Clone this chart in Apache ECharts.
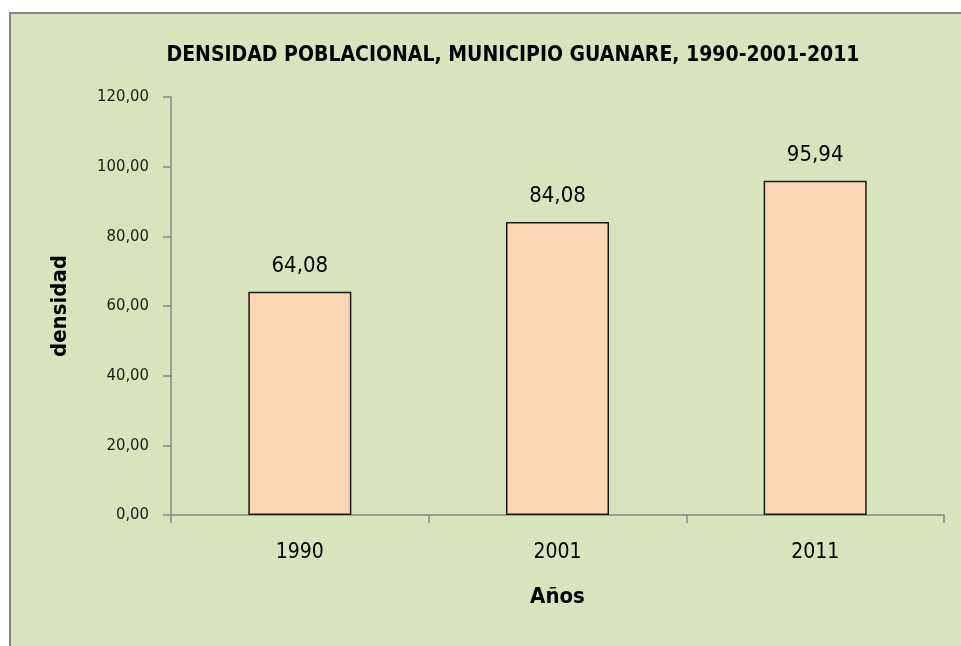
<!DOCTYPE html>
<html>
<head>
<meta charset="utf-8">
<script src="https://cdn.jsdelivr.net/npm/echarts@6/dist/echarts.min.js"></script>
<style>
html,body{margin:0;padding:0;background:#ffffff;}
#chart{width:961px;height:646px;}
</style>
</head>
<body>
<div id="chart"></div>
<script>
const titleText = 'DENSIDAD POBLACIONAL, MUNICIPIO GUANARE, 1990-2001-2011';
const categories = ['1990', '2001', '2011'];
const densidad = [64.08, 84.08, 95.94];
const yAxisName = 'densidad';
const xAxisName = 'Años';

const FONT = '"Liberation Sans Narrow", "DejaVu Sans Condensed", "Liberation Sans", sans-serif';
const fmt = v => Number(v).toFixed(2).replace('.', ',');

const chart = echarts.init(document.getElementById('chart'), null, {renderer: 'canvas'});
chart.setOption({
  animation: false,
  backgroundColor: '#ffffff',
  graphic: [{
    type: 'rect',
    z: -10,
    silent: true,
    shape: {x: 10, y: 13, width: 1000, height: 700},
    style: {fill: '#d8e4bc', stroke: '#868686', lineWidth: 2}
  }],
  title: {
    text: titleText,
    left: 508,
    textAlign: 'center',
    top: 40,
    textStyle: {fontFamily: FONT, fontWeight: 'bold', fontSize: 21, color: '#000000'}
  },
  grid: {left: 171, right: 17, top: 97, bottom: 131, containLabel: false},
  xAxis: {
    type: 'category',
    data: categories,
    name: xAxisName,
    nameLocation: 'middle',
    nameGap: 71,
    nameTextStyle: {fontFamily: FONT, fontWeight: 'bold', fontSize: 22, color: '#000000'},
    axisLine: {lineStyle: {color: '#868686', width: 1.5}},
    axisTick: {show: true, length: 8, lineStyle: {color: '#868686', width: 1.5}},
    axisLabel: {fontFamily: FONT, fontSize: 21, color: '#000000', margin: 27},
    splitLine: {show: false}
  },
  yAxis: {
    type: 'value',
    min: 0,
    max: 120,
    interval: 20,
    name: yAxisName,
    nameLocation: 'middle',
    nameRotate: 90,
    nameGap: 100,
    nameTextStyle: {fontFamily: FONT, fontWeight: 'bold', fontSize: 22, color: '#000000'},
    axisLine: {show: true, lineStyle: {color: '#868686', width: 1.5}},
    axisTick: {show: true, length: 8, lineStyle: {color: '#868686', width: 1.5}},
    axisLabel: {fontFamily: FONT, fontSize: 16.5, color: '#1a1a1a', margin: 22, formatter: fmt},
    splitLine: {show: false}
  },
  series: [{
    type: 'bar',
    data: densidad,
    barCategoryGap: '60%',
    itemStyle: {color: '#fcd5b4', borderColor: '#1a1a1a', borderWidth: 1.5},
    label: {
      show: true,
      position: 'top',
      distance: 15,
      fontFamily: FONT,
      fontSize: 22,
      color: '#000000',
      formatter: p => fmt(p.value)
    }
  }]
});
</script>
</body>
</html>
